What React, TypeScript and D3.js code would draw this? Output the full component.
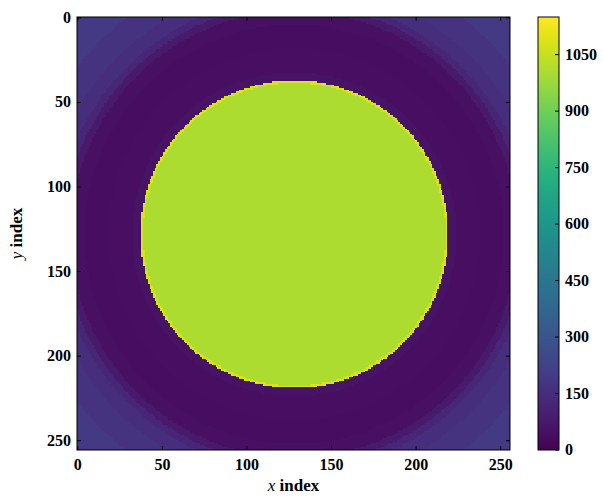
import React, { useMemo } from "react";
import * as d3 from "d3";

// image is 256 x 256, radially symmetric around (128, 128)
const gridSize = 256;
const centerX = 128;
const centerY = 128;

// radial profile: thresholds (pixel radius) and band values
const profileRadii = [89.5, 91, 96, 110, 124, 132, 136, 140, 148, 162];
const profileValues = [1010, 1085, 55, 42, 36, 45, 80, 125, 150, 170, 190];

const axisTicks = [0, 50, 100, 150, 200, 250];
const colorTicks = [0, 150, 300, 450, 600, 750, 900, 1050];
const colorDomain = [0, 1150];

const W = 603;
const H = 497;
const plot = { left: 77, top: 17, right: 510, bottom: 450 };
const cbar = { left: 538, right: 559 };
const fontFamily = "'Liberation Serif', 'DejaVu Serif', serif";

export default function App() {
  const x = d3.scaleLinear().domain([-0.5, gridSize - 0.5]).range([plot.left, plot.right]);
  const y = d3.scaleLinear().domain([-0.5, gridSize - 0.5]).range([plot.top, plot.bottom]);
  const profile = d3.scaleThreshold<number, number>().domain(profileRadii).range(profileValues);
  const color = d3.scaleSequential(d3.interpolateViridis).domain(colorDomain);
  const cy = d3.scaleLinear().domain(colorDomain).range([plot.bottom, plot.top]);

  // run-length merge of equal colours per row
  const runs = useMemo(() => {
    const out: { r: number; c0: number; c1: number; fill: string }[] = [];
    for (let r = 0; r < gridSize; r++) {
      let start = 0;
      let prev = "";
      for (let c = 0; c <= gridSize; c++) {
        const fill = c < gridSize ? color(profile(Math.hypot(c - centerX, r - centerY))) : "";
        if (c === 0) {
          prev = fill;
          continue;
        }
        if (fill !== prev) {
          out.push({ r, c0: start, c1: c - 1, fill: prev });
          start = c;
          prev = fill;
        }
      }
    }
    return out;
  }, []);

  const stops = d3.range(0, 1.0001, 0.02);
  const tickLen = 4;

  return (
    <svg width={W} height={H} style={{ position: "absolute", left: 0, top: 0 }}>
      <rect width={W} height={H} fill="white" />
      <defs>
        <linearGradient id="cb" x1="0" y1="1" x2="0" y2="0">
          {stops.map((t) => (
            <stop key={t} offset={t} stopColor={d3.interpolateViridis(t)} />
          ))}
        </linearGradient>
      </defs>

      {/* heatmap */}
      <g shapeRendering="crispEdges">
        {runs.map((d, i) => (
          <rect
            key={i}
            x={x(d.c0 - 0.5)}
            y={y(d.r - 0.5)}
            width={x(d.c1 + 0.5) - x(d.c0 - 0.5)}
            height={y(d.r + 0.5) - y(d.r - 0.5)}
            fill={d.fill}
          />
        ))}
      </g>

      {/* frame and inward ticks on all sides */}
      <rect
        x={plot.left}
        y={plot.top}
        width={plot.right - plot.left}
        height={plot.bottom - plot.top}
        fill="none"
        stroke="black"
        strokeWidth={1}
      />
      {axisTicks.map((t) => (
        <g key={t} stroke="black" strokeWidth={1}>
          <line x1={x(t)} x2={x(t)} y1={plot.bottom} y2={plot.bottom - tickLen} />
          <line x1={x(t)} x2={x(t)} y1={plot.top} y2={plot.top + tickLen} />
          <line y1={y(t)} y2={y(t)} x1={plot.left} x2={plot.left + tickLen} />
          <line y1={y(t)} y2={y(t)} x1={plot.right} x2={plot.right - tickLen} />
        </g>
      ))}
      {axisTicks.map((t) => (
        <text
          key={"x" + t}
          x={x(t)}
          y={plot.bottom + 20}
          textAnchor="middle"
          fontFamily={fontFamily}
          fontWeight="bold"
          fontSize={16}
        >
          {t}
        </text>
      ))}
      {axisTicks.map((t) => (
        <text
          key={"y" + t}
          x={plot.left - 6}
          y={y(t) + 5}
          textAnchor="end"
          fontFamily={fontFamily}
          fontWeight="bold"
          fontSize={16}
        >
          {t}
        </text>
      ))}

      {/* axis labels */}
      <text
        x={(plot.left + plot.right) / 2}
        y={plot.bottom + 41}
        textAnchor="middle"
        fontFamily={fontFamily}
        fontSize={17}
      >
        <tspan fontStyle="italic">x</tspan>
        <tspan fontWeight="bold"> index</tspan>
      </text>
      <text
        transform={`translate(22, ${(plot.top + plot.bottom) / 2}) rotate(-90)`}
        textAnchor="middle"
        fontFamily={fontFamily}
        fontSize={17}
      >
        <tspan fontStyle="italic">y</tspan>
        <tspan fontWeight="bold"> index</tspan>
      </text>

      {/* colorbar */}
      <rect
        x={cbar.left}
        y={plot.top}
        width={cbar.right - cbar.left}
        height={plot.bottom - plot.top}
        fill="url(#cb)"
        stroke="black"
        strokeWidth={1}
      />
      {colorTicks.map((t) => (
        <g key={"c" + t}>
          <line x1={cbar.right} x2={cbar.right - tickLen} y1={cy(t)} y2={cy(t)} stroke="black" />
          <text
            x={cbar.right + 6}
            y={cy(t) + 5}
            fontFamily={fontFamily}
            fontWeight="bold"
            fontSize={16}
          >
            {t}
          </text>
        </g>
      ))}
    </svg>
  );
}
